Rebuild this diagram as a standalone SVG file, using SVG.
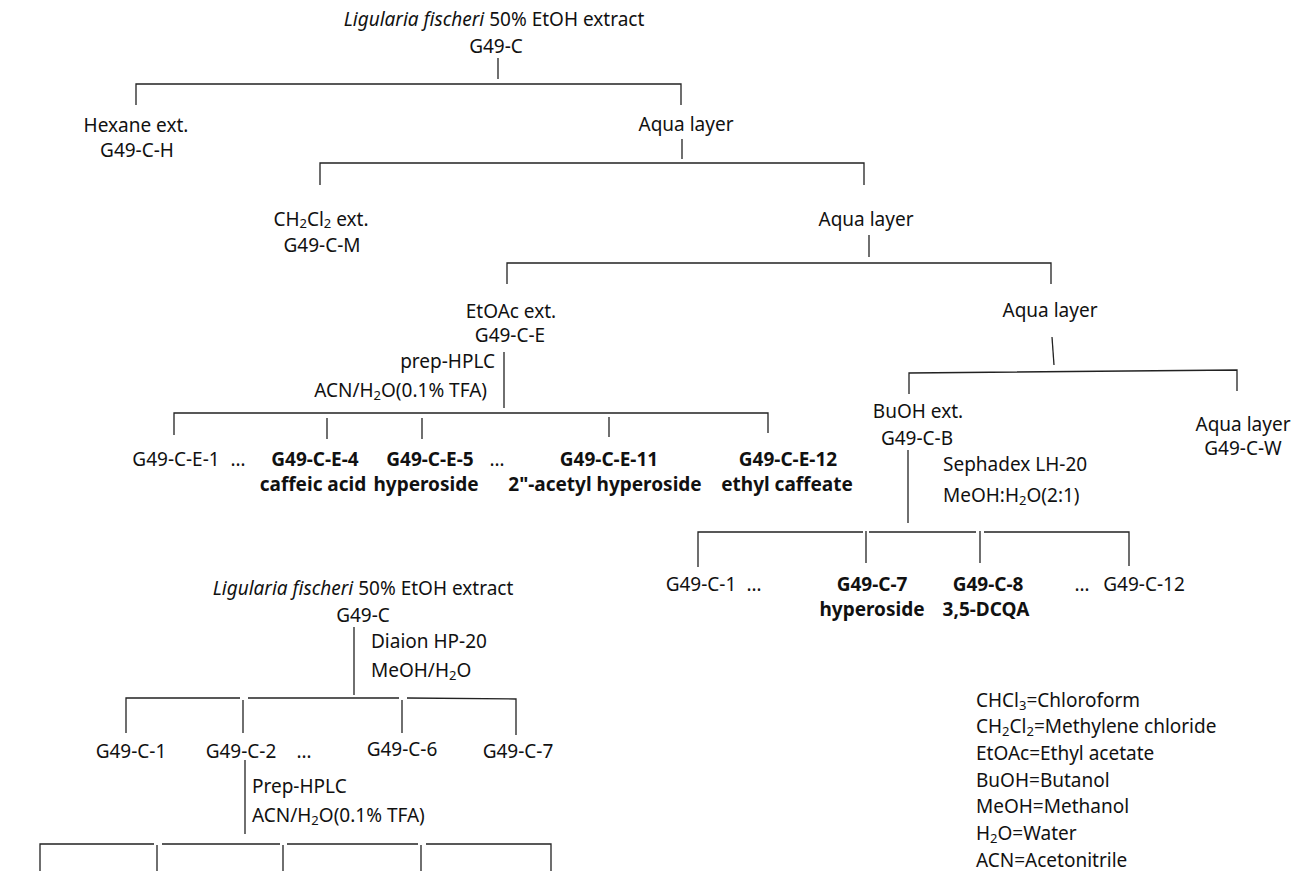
<svg xmlns="http://www.w3.org/2000/svg" width="1305" height="871" viewBox="0 0 1305 871">
<style>
text{font-family:"Noto Sans","Open Sans","Liberation Sans",sans-serif;font-size:19px;fill:#111}
.m{text-anchor:middle}
.s{text-anchor:start}
.e{text-anchor:end}
.b{font-weight:bold}
.i{font-style:italic}
.sub{font-size:13px}
.c line,.c polyline{stroke:#222;stroke-width:1.3;fill:none}
</style>
<rect width="1305" height="871" fill="#fff"/>
<g class="c" id="connectors">
<line x1="498" y1="58" x2="498" y2="79"/>
<polyline points="136,105 136,84 681,84 681,105"/>
<line x1="682" y1="139" x2="682" y2="159"/>
<polyline points="320,185 320,163 864,163 864,185"/>
<line x1="869" y1="235" x2="869" y2="257"/>
<polyline points="507,284 507,263 1051,263 1051,284"/>
<line x1="504" y1="352" x2="504" y2="408"/>
<polyline points="174,435 174,413 768,413 768,433"/>
<line x1="327" y1="418" x2="327" y2="439"/>
<line x1="422" y1="418" x2="422" y2="439"/>
<line x1="609" y1="417" x2="609" y2="437"/>
<line x1="1052" y1="337" x2="1054" y2="365"/>
<polyline points="909,394 909,373 1237,370 1237,391"/>
<line x1="908" y1="450" x2="908" y2="523"/>
<polyline points="698,567 698,532 863,532"/>
<line x1="869" y1="532" x2="976" y2="532"/>
<polyline points="984,532 1129,532 1129,566"/>
<line x1="866" y1="531" x2="866" y2="563"/>
<line x1="980" y1="531" x2="980" y2="563"/>
<line x1="354" y1="627" x2="354" y2="695"/>
<polyline points="126,733 126,698 240,698"/>
<line x1="248" y1="698" x2="399" y2="698"/>
<polyline points="407,698 516,699 516,735"/>
<line x1="243" y1="700" x2="243" y2="733"/>
<line x1="402" y1="700" x2="402" y2="733"/>
<line x1="245" y1="760" x2="245" y2="834"/>
<polyline points="40,871 40,844 154,844"/>
<line x1="162" y1="844" x2="280" y2="844"/>
<line x1="287" y1="844" x2="418" y2="844"/>
<polyline points="426,844 551,844 551,871"/>
<line x1="157" y1="845" x2="157" y2="871"/>
<line x1="283" y1="845" x2="283" y2="871"/>
<line x1="421" y1="845" x2="421" y2="871"/>
</g>
<g id="root1"><text class="m" x="494" y="26"><tspan class="i">Ligularia fischeri</tspan> 50% EtOH extract</text><text class="m" x="496" y="53">G49-C</text></g>
<g id="hexane"><text class="m" x="136" y="132">Hexane ext.</text><text class="m" x="137" y="157">G49-C-H</text></g>
<g id="aqua1"><text class="m" x="686" y="131">Aqua layer</text></g>
<g id="ch2cl2"><text class="m" x="321" y="226">CH<tspan class="sub" dy="2">2</tspan><tspan dy="-2">Cl</tspan><tspan class="sub" dy="2">2</tspan><tspan dy="-2"> ext.</tspan></text><text class="m" x="322" y="252">G49-C-M</text></g>
<g id="aqua2"><text class="m" x="866" y="226">Aqua layer</text></g>
<g id="etoac"><text class="m" x="511" y="318">EtOAc ext.</text><text class="m" x="510" y="342">G49-C-E</text>
<text class="e" x="495" y="368">prep-HPLC</text><text class="e" x="487" y="397">ACN/H<tspan class="sub" dy="3">2</tspan><tspan dy="-3">O(0.1% TFA)</tspan></text></g>
<g id="aqua3"><text class="m" x="1050" y="317">Aqua layer</text></g>
<g id="e1"><text class="m" x="176" y="466">G49-C-E-1</text><text class="m" x="238" y="466">…</text></g>
<g id="e4"><text class="m b" x="315" y="466">G49-C-E-4</text><text class="m b" x="313" y="491">caffeic acid</text></g>
<g id="e5"><text class="m b" x="430" y="466">G49-C-E-5</text><text class="m b" x="426" y="491">hyperoside</text><text class="m" x="497" y="466">…</text></g>
<g id="e11"><text class="m b" x="609" y="466">G49-C-E-11</text><text class="m b" x="605" y="491">2"-acetyl hyperoside</text></g>
<g id="e12"><text class="m b" x="788" y="466">G49-C-E-12</text><text class="m b" x="787" y="491">ethyl caffeate</text></g>
<g id="buoh"><text class="m" x="918" y="418">BuOH ext.</text><text class="m" x="917" y="445">G49-C-B</text>
<text class="s" x="943" y="471">Sephadex LH-20</text><text class="s" x="943" y="502">MeOH:H<tspan class="sub" dy="3">2</tspan><tspan dy="-3">O(2:1)</tspan></text></g>
<g id="aqua4"><text class="m" x="1243" y="431">Aqua layer</text><text class="m" x="1243" y="455">G49-C-W</text></g>
<g id="b1"><text class="m" x="701" y="591">G49-C-1</text><text class="m" x="754" y="591">…</text></g>
<g id="b7"><text class="m b" x="872" y="591">G49-C-7</text><text class="m b" x="872" y="616">hyperoside</text></g>
<g id="b8"><text class="m b" x="988" y="591">G49-C-8</text><text class="m b" x="986" y="616">3,5-DCQA</text></g>
<g id="b12"><text class="m" x="1082" y="591">…</text><text class="m" x="1144" y="591">G49-C-12</text></g>
<g id="root2"><text class="m" x="363" y="595"><tspan class="i">Ligularia fischeri</tspan> 50% EtOH extract</text><text class="m" x="363" y="622">G49-C</text>
<text class="s" x="371" y="648">Diaion HP-20</text><text class="s" x="371" y="677">MeOH/H<tspan class="sub" dy="3">2</tspan><tspan dy="-3">O</tspan></text></g>
<g id="f1"><text class="m" x="131" y="758">G49-C-1</text></g>
<g id="f2"><text class="m" x="241" y="758">G49-C-2</text><text class="m" x="304" y="758">…</text>
<text class="s" x="252" y="793">Prep-HPLC</text><text class="s" x="252" y="822">ACN/H<tspan class="sub" dy="3">2</tspan><tspan dy="-3">O(0.1% TFA)</tspan></text></g>
<g id="f6"><text class="m" x="402" y="756">G49-C-6</text></g>
<g id="f7"><text class="m" x="518" y="758">G49-C-7</text></g>
<g id="legend">
<text class="s" x="976" y="707">CHCl<tspan class="sub" dy="3">3</tspan><tspan dy="-3">=Chloroform</tspan></text>
<text class="s" x="976" y="733">CH<tspan class="sub" dy="3">2</tspan><tspan dy="-3">Cl</tspan><tspan class="sub" dy="3">2</tspan><tspan dy="-3">=Methylene chloride</tspan></text>
<text class="s" x="976" y="760">EtOAc=Ethyl acetate</text>
<text class="s" x="976" y="787">BuOH=Butanol</text>
<text class="s" x="976" y="813">MeOH=Methanol</text>
<text class="s" x="976" y="840">H<tspan class="sub" dy="3">2</tspan><tspan dy="-3">O=Water</tspan></text>
<text class="s" x="976" y="867">ACN=Acetonitrile</text>
</g>
</svg>
